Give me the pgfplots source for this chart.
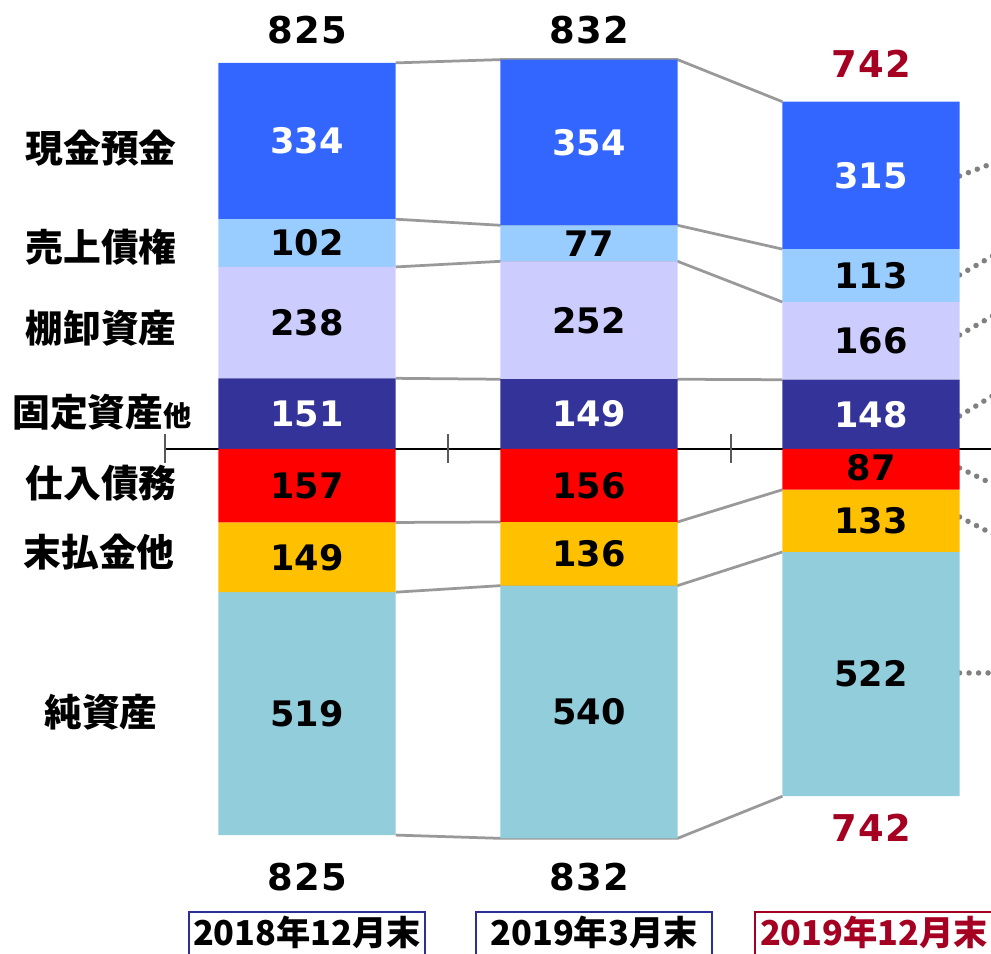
\documentclass[border=0pt]{standalone}
\usepackage{fontspec}
\usepackage{pgfplots}
\pgfplotsset{compat=1.18}
\newfontfamily\jp{Noto Sans CJK JP}
\newfontfamily\numf{DejaVu Sans}
\newfontfamily\totf{DejaVu Sans}[LetterSpace=4]

\definecolor{cash}{HTML}{3366FF}
\definecolor{recv}{HTML}{99CCFF}
\definecolor{inv}{HTML}{CCCCFF}
\definecolor{fixd}{HTML}{333399}
\definecolor{payb}{HTML}{FF0000}
\definecolor{accr}{HTML}{FFC000}
\definecolor{equi}{HTML}{92CDDC}
\definecolor{dred}{HTML}{A50021}
\definecolor{navy}{HTML}{2E2E99}
\definecolor{conn}{HTML}{999999}

% one px of the reference = 0.2mm
\pgfplotsset{bs/.style={scale only axis,width=198.2mm,height=190.8mm,
  xmin=-1.0887,xmax=2.4255,ymin=-1079.1,ymax=959.4,hide axis,clip=true}}

\tikzset{
  lab/.style={font={\jp\bfseries\fontsize{21.5pt}{24pt}\selectfont}},
  inb/.style={font={\numf\bfseries\fontsize{20pt}{24pt}\selectfont}},
  tot/.style={font={\totf\bfseries\fontsize{21pt}{24pt}\selectfont}},
  yr/.style={font={\jp\bfseries\fontsize{19.5pt}{22pt}\selectfont}}}

\begin{document}
\begin{tikzpicture}
% frame, connectors, labels
\begin{axis}[bs]
\coordinate (SW) at (rel axis cs:0,0);
\coordinate (NE) at (rel axis cs:1,1);
\addplot[black,line width=0.3mm] coordinates {(-0.5035,0) (2.6,0)};
\addplot[black!65,line width=0.3mm] coordinates {(-0.5035,32) (-0.5035,-30)};
\addplot[black!65,line width=0.3mm] coordinates {(0.5,32) (0.5,-30)};
\addplot[black!65,line width=0.3mm] coordinates {(1.5035,32) (1.5035,-30)};
% connectors between stack boundaries
\addplot[conn,line width=0.55mm] coordinates {(0.314,825) (0.686,832) (1.314,832) (1.686,742)};
\addplot[conn,line width=0.55mm] coordinates {(0.314,491) (0.686,478) (1.314,478) (1.686,427)};
\addplot[conn,line width=0.55mm] coordinates {(0.314,389) (0.686,401) (1.314,401) (1.686,314)};
\addplot[conn,line width=0.55mm] coordinates {(0.314,151) (0.686,149) (1.314,149) (1.686,148)};
\addplot[conn,line width=0.55mm] coordinates {(0.314,-157) (0.686,-156) (1.314,-156) (1.686,-87)};
\addplot[conn,line width=0.55mm] coordinates {(0.314,-306) (0.686,-292) (1.314,-292) (1.686,-220)};
\addplot[conn,line width=0.55mm] coordinates {(0.314,-825) (0.686,-832) (1.314,-832) (1.686,-742)};
% dotted leaders to the right
\addplot[black!50,line width=1.1mm,line cap=round,dash pattern=on 0pt off 1.9mm] coordinates {(2.314,583.3) (2.812,698.7)};
\addplot[black!50,line width=1.1mm,line cap=round,dash pattern=on 0pt off 1.9mm] coordinates {(2.314,371.8) (2.812,544.9)};
\addplot[black!50,line width=1.1mm,line cap=round,dash pattern=on 0pt off 1.9mm] coordinates {(2.314,243.6) (2.812,416.7)};
\addplot[black!50,line width=1.1mm,line cap=round,dash pattern=on 0pt off 1.9mm] coordinates {(2.314,70.5) (2.812,254.3)};
\addplot[black!50,line width=1.1mm,line cap=round,dash pattern=on 0pt off 1.9mm] coordinates {(2.314,-40.6) (2.812,-185.9)};
\addplot[black!50,line width=1.1mm,line cap=round,dash pattern=on 0pt off 1.9mm] coordinates {(2.314,-145.3) (2.812,-299.1)};
\addplot[black!50,line width=1.1mm,line cap=round,dash pattern=on 0pt off 1.9mm] coordinates {(2.314,-478.6) (2.812,-478.6)};
% row labels
\node[lab] at (axis cs:-0.7305,643.2) {現金預金};
\node[lab] at (axis cs:-0.7305,431.6) {売上債権};
\node[lab] at (axis cs:-0.7305,258.5) {棚卸資産};
\node[lab,anchor=west,inner sep=0pt] at (axis cs:-1.046,79.1) {固定資産{\fontsize{16pt}{18pt}\selectfont 他}};
\node[lab] at (axis cs:-0.7305,-72.6) {仕入債務};
\node[lab] at (axis cs:-0.7376,-220.1) {末払金他};
\node[lab] at (axis cs:-0.7305,-562.0) {純資産};
% totals
\node[tot] at (axis cs:0,895.3) {825};
\node[tot] at (axis cs:1,895.3) {832};
\node[tot,text=dred] at (axis cs:2,822.6) {742};
\node[tot] at (axis cs:0,-914.5) {825};
\node[tot] at (axis cs:1,-914.5) {832};
\node[tot,text=dred] at (axis cs:2,-809.8) {742};
% period boxes
\draw[navy,line width=0.3mm] (axis cs:-0.4184,-989.3) rectangle (axis cs:0.4184,-1130);
\draw[navy,line width=0.3mm] (axis cs:0.599,-989.3) rectangle (axis cs:1.436,-1130);
\draw[dred,line width=0.3mm] (axis cs:1.589,-989.3) rectangle (axis cs:2.6,-1130);
\node[yr] at (axis cs:0,-1032) {2018年12月末};
\node[yr] at (axis cs:1.018,-1032) {2019年3月末};
\node[yr,text=dred] at (axis cs:2.011,-1032) {2019年12月末};
\end{axis}

% assets
\begin{axis}[bs,ybar stacked,bar width=0.628]
\addplot[fill=fixd,draw=none] coordinates {(0,151) (1,149) (2,148)};
\addplot[fill=inv,draw=none] coordinates {(0,238) (1,252) (2,166)};
\addplot[fill=recv,draw=none] coordinates {(0,102) (1,77) (2,113)};
\addplot[fill=cash,draw=none] coordinates {(0,334) (1,354) (2,315)};
\end{axis}

% liabilities and net assets
\begin{axis}[bs,ybar stacked,bar width=0.628]
\addplot[fill=payb,draw=none] coordinates {(0,-157) (1,-156) (2,-87)};
\addplot[fill=accr,draw=none] coordinates {(0,-149) (1,-136) (2,-133)};
\addplot[fill=equi,draw=none] coordinates {(0,-519) (1,-540) (2,-522)};
\end{axis}

% segment values, on top of all bars
\begin{axis}[bs]
\node[inb,text=white] at (axis cs:0,658) {334};
\node[inb] at (axis cs:0,440) {102};
\node[inb] at (axis cs:0,270) {238};
\node[inb,text=white] at (axis cs:0,75.5) {151};
\node[inb] at (axis cs:0,-78.5) {157};
\node[inb] at (axis cs:0,-231.5) {149};
\node[inb] at (axis cs:0,-565.5) {519};
\node[inb,text=white] at (axis cs:1,655) {354};
\node[inb] at (axis cs:1,439.5) {77};
\node[inb] at (axis cs:1,275) {252};
\node[inb,text=white] at (axis cs:1,74.5) {149};
\node[inb] at (axis cs:1,-78) {156};
\node[inb] at (axis cs:1,-224) {136};
\node[inb] at (axis cs:1,-562) {540};
\node[inb,text=white] at (axis cs:2,584.5) {315};
\node[inb] at (axis cs:2,370.5) {113};
\node[inb] at (axis cs:2,231) {166};
\node[inb,text=white] at (axis cs:2,74) {148};
\node[inb] at (axis cs:2,-40) {87};
\node[inb] at (axis cs:2,-153.5) {133};
\node[inb] at (axis cs:2,-481) {522};
\end{axis}
\pgfresetboundingbox
\path[use as bounding box] (SW) rectangle (NE);
\end{tikzpicture}
\end{document}
